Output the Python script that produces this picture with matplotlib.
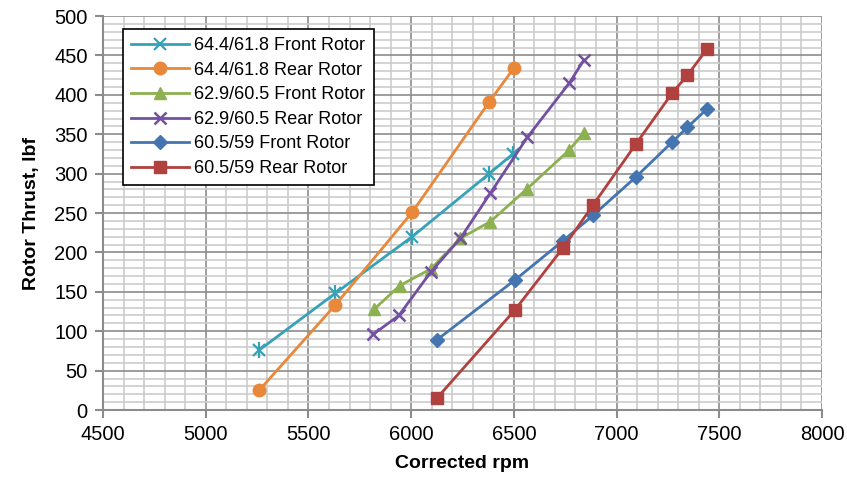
import matplotlib
matplotlib.use('Agg')
import matplotlib.pyplot as plt
from matplotlib.ticker import MultipleLocator

# rpm / thrust pairs for each rotor configuration
rpm_644_front = [5260, 5630, 6005, 6380, 6495]
thr_644_front = [76, 148, 220, 300, 325]
rpm_644_rear = [5260, 5630, 6005, 6380, 6500]
thr_644_rear = [25, 133, 251, 391, 434]
rpm_629_front = [5820, 5945, 6095, 6240, 6385, 6565, 6770, 6840]
thr_629_front = [128, 158, 179, 218, 239, 281, 330, 352]
rpm_629_rear = [5815, 5940, 6095, 6240, 6385, 6565, 6770, 6840]
thr_629_rear = [96, 120, 175, 218, 275, 346, 415, 444]
rpm_605_front = [6125, 6505, 6740, 6885, 7095, 7270, 7345, 7440]
thr_605_front = [89, 165, 215, 247, 296, 340, 359, 382]
rpm_605_rear = [6125, 6505, 6740, 6885, 7095, 7270, 7345, 7440]
thr_605_rear = [15, 127, 206, 260, 338, 402, 425, 458]

labels = ['64.4/61.8 Front Rotor', '64.4/61.8 Rear Rotor',
          '62.9/60.5 Front Rotor', '62.9/60.5 Rear Rotor',
          '60.5/59 Front Rotor', '60.5/59 Rear Rotor']

plt.rcParams['font.family'] = ['Liberation Sans Narrow', 'Liberation Sans', 'DejaVu Sans']

fig = plt.figure(figsize=(8.47, 4.87), dpi=100)
ax = fig.add_axes([0.1216, 0.158, 0.8489, 0.809])

# the asterisk marker is an x with a | on top
ax.plot(rpm_644_front, thr_644_front, color='#36A2B8', marker='x', ms=9, mew=1.6, lw=2, label=labels[0])
ax.plot(rpm_644_front, thr_644_front, color='#36A2B8', marker='|', ms=11, mew=1.6, lw=0)
ax.plot(rpm_644_rear, thr_644_rear, color='#E8883A', marker='o', ms=9, lw=2, label=labels[1])
ax.plot(rpm_629_front, thr_629_front, color='#8DB050', marker='^', ms=9, lw=2, label=labels[2])
ax.plot(rpm_629_rear, thr_629_rear, color='#7450A0', marker='x', ms=9, mew=1.8, lw=2, label=labels[3])
ax.plot(rpm_605_front, thr_605_front, color='#4475B0', marker='D', ms=7, lw=2, label=labels[4])
ax.plot(rpm_605_rear, thr_605_rear, color='#B0413E', marker='s', ms=9, lw=2, label=labels[5])

ax.set_xlim(4500, 8000)
ax.set_ylim(0, 500)
ax.xaxis.set_major_locator(MultipleLocator(500))
ax.xaxis.set_minor_locator(MultipleLocator(100))
ax.yaxis.set_major_locator(MultipleLocator(50))
ax.yaxis.set_minor_locator(MultipleLocator(10))
ax.grid(True, which='major', color='#8c8c8c', lw=1.2)
ax.grid(True, which='minor', color='#cccccc', lw=1.2)
ax.set_axisbelow(True)

for s in ['top', 'right']:
    ax.spines[s].set_visible(False)
for s in ['left', 'bottom']:
    ax.spines[s].set_color('#8c8c8c')
    ax.spines[s].set_linewidth(1.5)
ax.tick_params(which='major', length=6, width=1.5, color='#8c8c8c', labelsize=14.5, pad=5)
ax.tick_params(which='minor', length=0)

ax.set_xlabel('Corrected rpm', fontsize=14, fontweight='bold', labelpad=8)
ax.set_ylabel('Rotor Thrust, lbf', fontsize=14, fontweight='bold', labelpad=10)

leg = ax.legend(loc='upper left', bbox_to_anchor=(0.015, 0.99), fontsize=13,
                frameon=True, fancybox=False, edgecolor='black', framealpha=1,
                handlelength=3.2, handletextpad=0.3, labelspacing=0.42, borderpad=0.45)
leg.get_frame().set_linewidth(1.2)

fig.savefig('out.png', dpi=100)
